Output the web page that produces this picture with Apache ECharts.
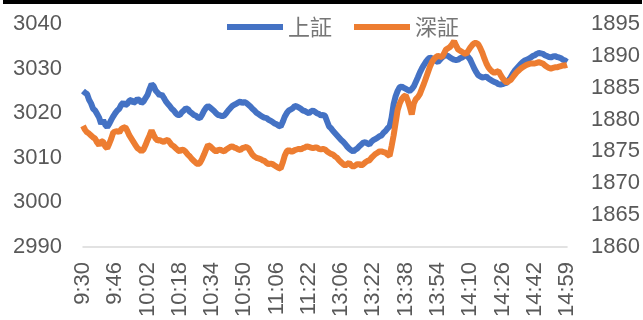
<!DOCTYPE html>
<html>
<head>
<meta charset="utf-8">
<script src="https://cdn.jsdelivr.net/npm/echarts@6/dist/echarts.min.js"></script>
<style>
html,body{margin:0;padding:0;background:#fff;}
#chart{width:643px;height:320px;}
</style>
</head>
<body>
<div id="chart"></div>
<script>
// Tick labels shown every 16 minutes along the category axis
var tickLabels = ['9:30','9:46','10:02','10:18','10:34','10:50','11:06','11:22',
  '13:06','13:22','13:38','13:54','14:10','14:26','14:42','14:59'];

// 上証 (left axis)
var shanghai = [
3025.0,3024.6,3024.3,3023.0,3022.2,3021.0,3020.6,3019.8,3019.0,3017.6,
3018.4,3017.4,3016.9,3017.6,3018.5,3019.3,3020.0,3020.6,3021.0,3021.9,
3022.4,3021.8,3022.1,3022.8,3023.0,3022.3,3022.6,3023.2,3022.9,3022.3,
3022.6,3023.4,3024.1,3025.4,3026.5,3026.1,3025.1,3024.6,3024.0,3024.2,
3023.5,3022.7,3022.1,3021.6,3021.0,3020.6,3020.0,3019.6,3019.6,3020.2,
3020.6,3021.1,3020.9,3020.3,3020.0,3019.6,3019.4,3019.0,3018.9,3019.6,
3020.5,3021.2,3021.6,3021.3,3020.9,3020.5,3020.0,3019.6,3019.5,3019.3,
3019.5,3020.0,3020.6,3021.1,3021.6,3021.9,3022.1,3022.4,3022.6,3022.3,
3022.5,3022.3,3021.9,3021.5,3021.0,3020.6,3020.1,3019.8,3019.5,3019.2,
3019.0,3018.9,3018.5,3018.3,3018.0,3017.7,3017.5,3017.2,3017.0,3018.0,
3019.2,3020.0,3020.6,3020.8,3021.1,3021.6,3021.5,3021.3,3021.0,3020.6,
3020.5,3020.2,3020.0,3020.4,3020.6,3020.3,3020.0,3019.8,3019.5,3019.6,
3019.4,3018.2,3017.0,3016.6,3016.0,3015.5,3015.0,3014.5,3014.0,3013.6,
3013.1,3012.5,3012.0,3011.7,3011.4,3011.8,3012.1,3012.6,3013.0,3013.4,
3013.5,3013.2,3013.0,3013.6,3014.0,3014.2,3014.5,3014.8,3015.0,3015.6,
3016.0,3016.6,3017.0,3019.0,3022.0,3023.8,3025.0,3025.8,3026.0,3025.7,
3025.5,3025.2,3025.0,3025.4,3026.0,3027.0,3028.0,3029.1,3030.0,3030.8,
3031.5,3032.1,3032.5,3032.3,3032.0,3031.7,3031.5,3032.0,3032.5,3032.8,
3033.0,3032.8,3032.5,3032.2,3032.0,3031.9,3032.0,3032.3,3032.5,3032.8,
3033.0,3032.6,3032.0,3031.0,3030.0,3029.2,3028.5,3028.2,3028.0,3028.1,
3028.2,3027.8,3027.5,3027.2,3027.0,3026.8,3026.5,3026.4,3026.5,3026.7,
3026.8,3027.4,3028.0,3028.8,3029.5,3030.0,3030.5,3031.0,3031.5,3031.8,
3032.0,3032.2,3032.5,3032.8,3033.0,3033.3,3033.5,3033.4,3033.3,3033.0,
3032.8,3032.6,3032.5,3032.7,3032.8,3032.6,3032.5,3032.3,3032.0,3031.8,
3031.5
];

// 深証 (right axis)
var shenzhen = [
1879.0,1878.4,1878.0,1877.8,1877.5,1877.2,1877.0,1876.4,1876.0,1876.6,
1876.5,1875.8,1875.5,1876.2,1877.0,1878.0,1878.1,1878.2,1878.0,1878.5,
1878.7,1878.8,1878.2,1877.5,1877.0,1876.5,1876.0,1875.5,1875.3,1875.0,
1875.3,1876.0,1876.8,1877.5,1878.3,1877.6,1877.0,1876.7,1876.8,1876.6,
1876.5,1876.7,1876.8,1876.4,1876.0,1875.8,1875.5,1875.2,1875.0,1875.3,
1875.2,1874.9,1874.5,1874.2,1873.8,1873.5,1873.2,1873.0,1873.2,1873.8,
1874.5,1875.3,1876.0,1875.8,1875.5,1875.2,1875.0,1875.2,1875.3,1875.1,
1875.0,1875.3,1875.5,1875.7,1875.8,1875.6,1875.5,1875.3,1875.2,1875.5,
1875.6,1875.7,1875.5,1875.0,1874.5,1874.2,1874.0,1873.9,1873.8,1873.6,
1873.5,1873.2,1873.0,1873.1,1873.0,1872.8,1872.6,1872.4,1872.3,1873.2,
1874.3,1875.0,1875.2,1875.0,1875.0,1875.2,1875.3,1875.4,1875.3,1875.5,
1875.6,1875.8,1875.7,1875.6,1875.5,1875.6,1875.6,1875.4,1875.3,1875.4,
1875.3,1875.0,1874.8,1874.6,1874.5,1874.2,1874.0,1873.6,1873.3,1873.0,
1872.8,1873.0,1873.2,1872.8,1872.6,1872.8,1873.0,1873.0,1872.8,1873.0,
1873.3,1873.5,1873.6,1874.0,1874.3,1874.6,1874.8,1875.0,1875.0,1874.9,
1874.8,1874.5,1874.3,1875.8,1877.5,1879.5,1881.5,1882.5,1883.2,1883.6,
1883.8,1883.0,1882.0,1880.8,1882.5,1883.2,1883.5,1884.0,1884.8,1885.6,
1886.5,1887.4,1888.3,1889.0,1889.5,1889.8,1890.0,1889.9,1889.8,1890.4,
1891.0,1891.2,1891.4,1891.8,1892.3,1891.6,1891.0,1890.8,1890.6,1890.4,
1890.3,1890.8,1891.3,1891.7,1892.0,1892.0,1891.8,1891.2,1890.5,1889.6,
1888.8,1888.2,1887.8,1887.5,1887.3,1887.5,1887.6,1887.0,1886.5,1886.1,
1885.8,1886.0,1886.2,1886.6,1887.0,1887.4,1887.7,1888.0,1888.2,1888.4,
1888.6,1888.7,1888.8,1888.8,1888.8,1888.9,1889.0,1888.9,1888.8,1888.5,
1888.3,1888.1,1888.0,1888.1,1888.2,1888.2,1888.3,1888.4,1888.5,1888.5,
1888.6
];

var seriesNames = ['上証', '深証'];

var categories = [];
for (var i = 0; i < shanghai.length; i++) categories.push(String(i));

var FONT = '"Liberation Sans", "Noto Sans CJK TC", sans-serif';
var GREY = '#595959';
var plain = function (v) { return String(v); };

var chart = echarts.init(document.getElementById('chart'), null, {renderer: 'canvas'});
chart.setOption({
  animation: false,
  backgroundColor: '#ffffff',
  graphic: [{
    type: 'rect', left: 3, top: 0,
    shape: {width: 639, height: 4},
    style: {fill: '#000000'}
  }],
  legend: {
    data: seriesNames,
    left: 222, top: 11,
    icon: 'rect',
    itemWidth: 56, itemHeight: 6,
    itemGap: 22,
    textStyle: {fontSize: 22, color: '#767676', fontFamily: '"Noto Sans CJK TC", sans-serif', fontWeight: 'normal'}
  },
  grid: {left: 83, right: 75, top: 24, bottom: 67, containLabel: false},
  xAxis: {
    type: 'category',
    data: categories,
    boundaryGap: false,
    axisLine: {show: true, lineStyle: {color: '#d9d9d9', width: 1.5}},
    axisTick: {show: false},
    splitLine: {show: false},
    axisLabel: {
      interval: 15,
      rotate: 90,
      margin: 15,
      fontSize: 22,
      color: GREY,
      fontFamily: FONT,
      formatter: function (v, idx) { return tickLabels[Math.round(idx / 16)] || ''; }
    }
  },
  yAxis: [{
    type: 'value', min: 2990, max: 3040, interval: 10,
    axisLine: {show: false}, axisTick: {show: false}, splitLine: {show: false},
    axisLabel: {fontSize: 22, color: GREY, fontFamily: FONT, margin: 21, formatter: plain}
  }, {
    type: 'value', min: 1860, max: 1895, interval: 5,
    axisLine: {show: false}, axisTick: {show: false}, splitLine: {show: false},
    axisLabel: {fontSize: 22, color: GREY, fontFamily: FONT, margin: 24, formatter: plain}
  }],
  series: [{
    name: seriesNames[0], type: 'line', yAxisIndex: 0,
    data: shanghai, showSymbol: false, symbol: 'none',
    lineStyle: {color: '#4472C4', width: 6}, itemStyle: {color: '#4472C4'}
  }, {
    name: seriesNames[1], type: 'line', yAxisIndex: 1,
    data: shenzhen, showSymbol: false, symbol: 'none',
    lineStyle: {color: '#ED7D31', width: 6}, itemStyle: {color: '#ED7D31'}
  }]
});
</script>
</body>
</html>
